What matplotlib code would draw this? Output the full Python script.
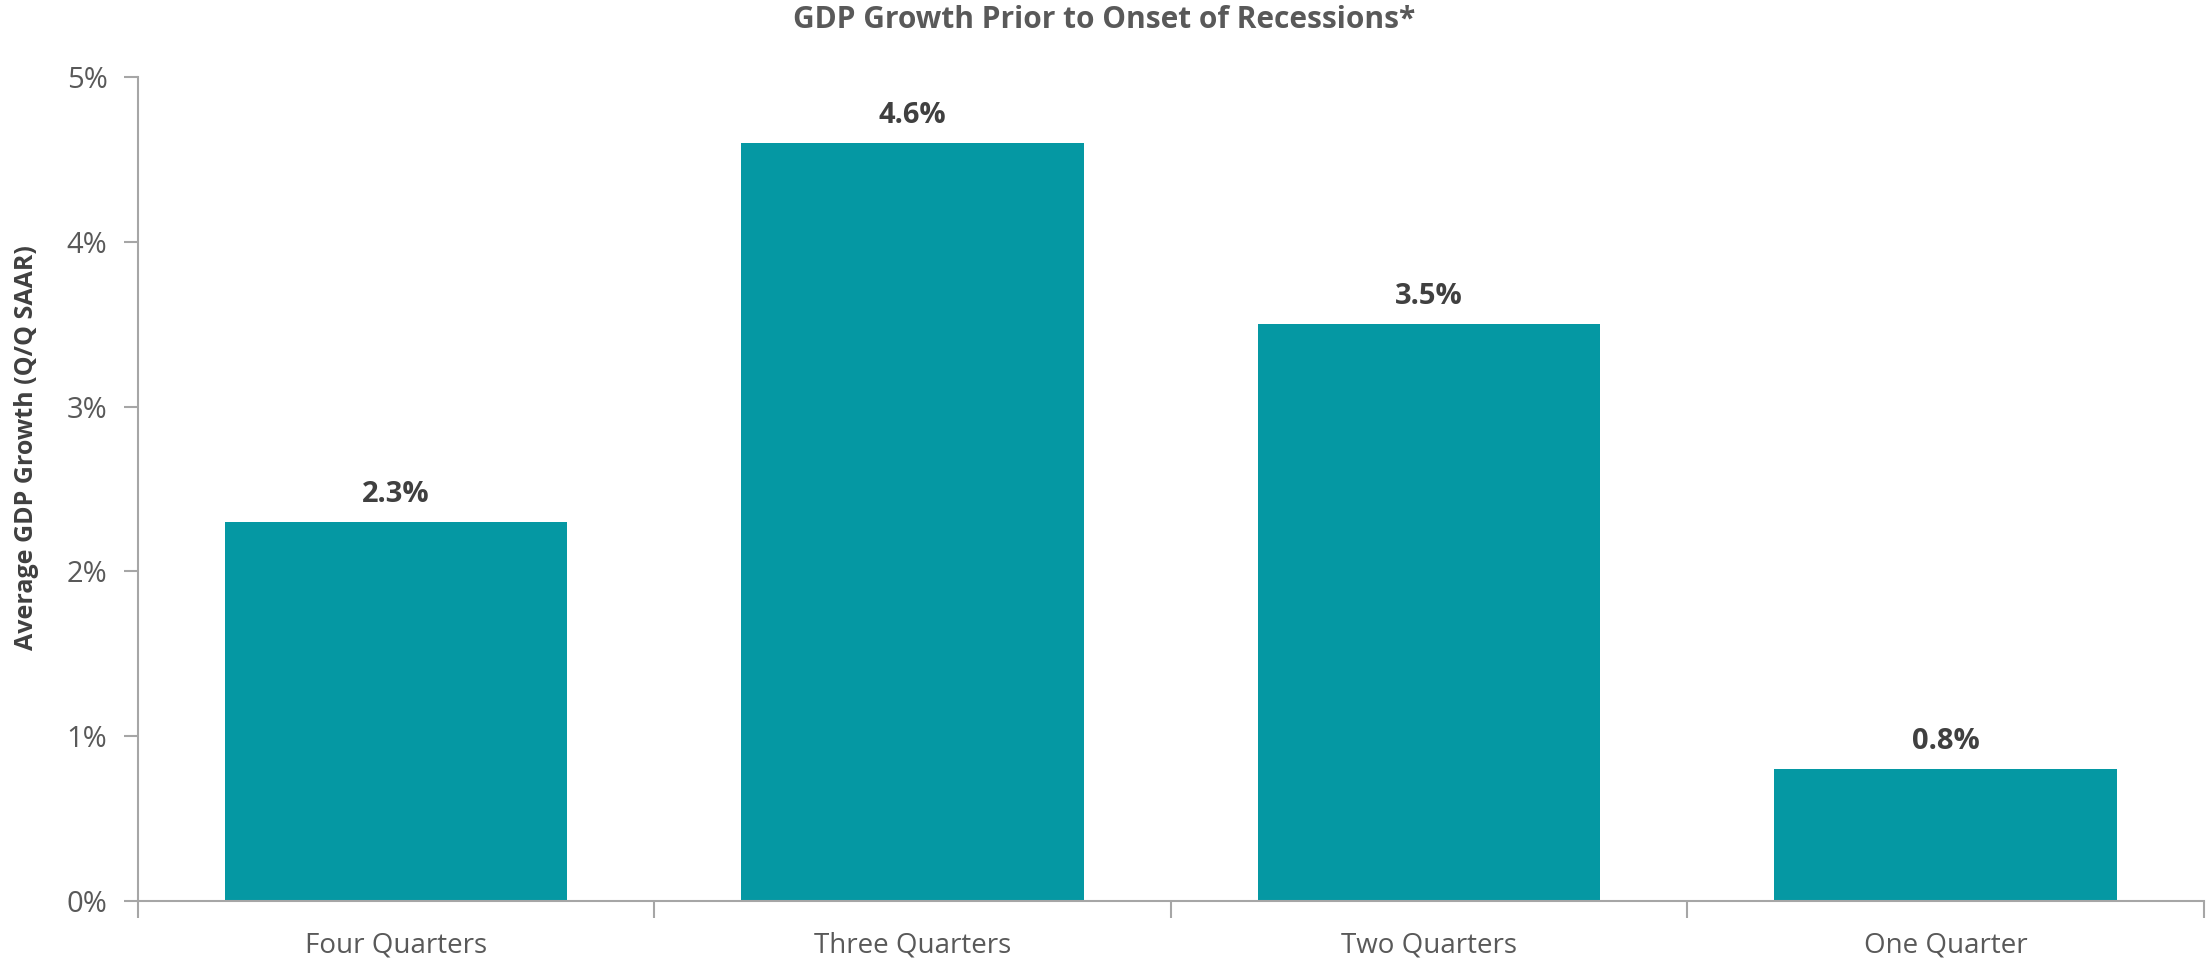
import numpy as np
import matplotlib.pyplot as plt
from matplotlib.ticker import FuncFormatter, FixedLocator

# data
categories = ['Four Quarters', 'Three Quarters', 'Two Quarters', 'One Quarter']
growth = [2.3, 4.6, 3.5, 0.8]

bar_color = '#0598A3'
axis_gray = '#A6A6A6'
text_gray = '#595959'
label_dark = '#404040'

plt.rcParams['font.family'] = ['Open Sans', 'DejaVu Sans']

fig = plt.figure(figsize=(22.08, 9.67), dpi=100)
ax = fig.add_axes([0.0625, 0.0684, 0.9355, 0.8516])

x = np.arange(len(categories))
bars = ax.bar(x, growth, width=0.663, color=bar_color, zorder=2)

for xi, v in zip(x, growth):
    ax.text(xi, v + 0.08, f'{v:.1f}%', ha='center', va='bottom',
            fontsize=21, fontweight='bold', color=label_dark)

ax.set_xlim(-0.5, len(categories) - 0.5)
ax.set_ylim(0, 5)
ax.set_yticks(np.arange(0, 6, 1))
ax.yaxis.set_major_formatter(FuncFormatter(lambda v, p: f'{v:.0f}%'))

ax.set_xticks(x)
ax.set_xticklabels(categories)
ax.xaxis.set_minor_locator(FixedLocator(np.arange(-0.5, len(categories), 1)))
ax.tick_params(axis='x', which='major', length=0, pad=22, labelsize=20, labelcolor=text_gray)
ax.tick_params(axis='x', which='minor', length=12, width=1.5, color=axis_gray, direction='out')
ax.tick_params(axis='y', length=10, width=1.5, color=axis_gray, pad=12, labelsize=21, labelcolor=text_gray)

for side in ['top', 'right']:
    ax.spines[side].set_visible(False)
for side in ['left', 'bottom']:
    ax.spines[side].set_color(axis_gray)
    ax.spines[side].set_linewidth(1.5)

ax.set_ylabel('Average GDP Growth (Q/Q SAAR)', fontsize=18, fontweight='bold',
              color=label_dark, labelpad=20)
ax.yaxis.label.set_y(0.55)
fig.suptitle('GDP Growth Prior to Onset of Recessions*', x=0.5, y=0.995,
             fontsize=21.5, fontweight='bold', color=text_gray)

fig.savefig('out.png', dpi=100)
